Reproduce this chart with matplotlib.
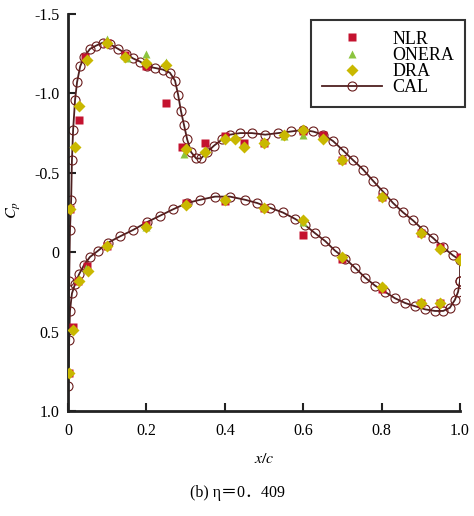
import matplotlib
matplotlib.use('Agg')
import matplotlib.pyplot as plt
import numpy as np

plt.rcParams['font.family'] = ['Liberation Serif', 'Noto Sans CJK SC', 'DejaVu Sans']
plt.rcParams['mathtext.fontset'] = 'stix'

# CAL (computation), upper surface from leading edge to trailing edge
cal_up_x = [0.0, 0.0, 0.003, 0.005, 0.008, 0.010, 0.013, 0.018, 0.023, 0.031, 0.041,
            0.056, 0.071, 0.089, 0.107, 0.128, 0.148, 0.166, 0.184, 0.202, 0.222,
            0.242, 0.260, 0.273, 0.281, 0.288, 0.296, 0.304, 0.314, 0.327, 0.339,
            0.355, 0.372, 0.393, 0.413, 0.439, 0.469, 0.503, 0.536, 0.569, 0.599,
            0.625, 0.651, 0.676, 0.702, 0.727, 0.753, 0.778, 0.804, 0.829, 0.855,
            0.880, 0.906, 0.931, 0.957, 0.982, 1.0]
cal_up_cp = [0.84, 0.49, 0.18, -0.14, -0.33, -0.58, -0.77, -0.96, -1.07, -1.17, -1.23,
             -1.28, -1.30, -1.32, -1.31, -1.28, -1.25, -1.22, -1.20, -1.17, -1.16,
             -1.15, -1.13, -1.08, -0.99, -0.89, -0.80, -0.71, -0.63, -0.59, -0.59,
             -0.63, -0.67, -0.71, -0.74, -0.75, -0.75, -0.74, -0.75, -0.76, -0.77,
             -0.76, -0.74, -0.70, -0.64, -0.58, -0.52, -0.45, -0.38, -0.31, -0.25,
             -0.20, -0.14, -0.09, -0.03, 0.02, 0.05]
# CAL lower surface, leading edge to trailing edge
cal_lo_x = [0.003, 0.005, 0.010, 0.018, 0.028, 0.041, 0.056, 0.077, 0.102, 0.133,
            0.166, 0.202, 0.235, 0.268, 0.304, 0.337, 0.375, 0.413, 0.452, 0.482,
            0.515, 0.548, 0.579, 0.605, 0.630, 0.656, 0.681, 0.707, 0.733, 0.758,
            0.783, 0.809, 0.834, 0.860, 0.885, 0.911, 0.936, 0.957, 0.974, 0.987,
            0.995, 1.0]
cal_lo_cp = [0.55, 0.37, 0.26, 0.20, 0.14, 0.08, 0.03, -0.01, -0.06, -0.10,
             -0.14, -0.19, -0.23, -0.27, -0.31, -0.33, -0.35, -0.35, -0.33, -0.31,
             -0.28, -0.25, -0.21, -0.17, -0.12, -0.07, -0.01, 0.04, 0.10, 0.16,
             0.21, 0.25, 0.29, 0.32, 0.34, 0.36, 0.37, 0.37, 0.35, 0.30,
             0.25, 0.18]

# NLR experiment
nlr_x = [0.005, 0.028, 0.043, 0.1, 0.145, 0.2, 0.25, 0.29, 0.35, 0.4, 0.45, 0.5,
         0.6, 0.65, 0.7, 0.8, 0.9, 0.95,
         0.003, 0.012, 0.026, 0.048, 0.1, 0.2, 0.3, 0.4, 0.5, 0.6, 0.7, 0.8, 0.9, 0.95, 1.0]
nlr_cp = [-0.27, -0.83, -1.23, -1.32, -1.24, -1.17, -0.94, -0.66, -0.69, -0.73, -0.69, -0.69,
          -0.76, -0.74, -0.58, -0.35, -0.12, -0.03,
          0.76, 0.47, 0.18, 0.09, -0.04, -0.17, -0.31, -0.32, -0.28, -0.11, 0.04, 0.23, 0.32, 0.32, 0.03]

# ONERA experiment
onera_x = [0.1, 0.15, 0.2, 0.25, 0.295, 0.55, 0.6, 0.045, 0.2, 0.6]
onera_cp = [-1.34, -1.22, -1.25, -1.20, -0.62, -0.73, -0.74, 0.10, -0.16, -0.19]

# DRA experiment
dra_x = [0.005, 0.018, 0.028, 0.049, 0.1, 0.146, 0.2, 0.25, 0.3, 0.35, 0.4, 0.425,
         0.45, 0.5, 0.55, 0.6, 0.65, 0.7, 0.8, 0.9, 0.95, 1.0,
         0.003, 0.012, 0.028, 0.05, 0.1, 0.2, 0.3, 0.4, 0.5, 0.6, 0.7, 0.8, 0.9, 0.95]
dra_cp = [-0.27, -0.66, -0.92, -1.21, -1.32, -1.23, -1.19, -1.18, -0.65, -0.63, -0.71, -0.71,
          -0.66, -0.69, -0.74, -0.77, -0.71, -0.58, -0.35, -0.12, -0.02, 0.05,
          0.76, 0.49, 0.18, 0.12, -0.04, -0.16, -0.30, -0.33, -0.28, -0.20, 0.03, 0.22, 0.32, 0.32]

fig = plt.figure(figsize=(4.74, 5.16), dpi=100)
ax = fig.add_axes([0.1435, 0.2035, 0.827, 0.7694])

# closed loop: lower TE -> LE -> upper TE -> back down
cal_x = cal_lo_x[::-1] + cal_up_x + [cal_lo_x[-1]]
cal_cp = cal_lo_cp[::-1] + cal_up_cp + [cal_lo_cp[-1]]

ax.plot(nlr_x, nlr_cp, 's', color='#c4122f', ms=5.8, mec='none', label='NLR', zorder=3)
ax.plot(onera_x, onera_cp, '^', color='#8cc43f', ms=6.2, mec='none', label='ONERA', zorder=4)
ax.plot(dra_x, dra_cp, 'D', color='#c9b800', ms=6.2, mec='none', label='DRA', zorder=5)
ax.plot(cal_x, cal_cp, '-', color='#4e2020', lw=1.3, marker='o', ms=6.5, mfc='none',
        mec='#6a1c1c', mew=0.8, label='CAL', zorder=2)

ax.set_xlim(0, 1.0)
ax.set_ylim(1.0, -1.5)
ax.set_xticks([0, 0.2, 0.4, 0.6, 0.8, 1.0])
ax.set_xticklabels(['0', '0.2', '0.4', '0.6', '0.8', '1.0'])
ax.set_yticks([-1.5, -1.0, -0.5, 0, 0.5, 1.0])
ax.set_yticklabels(['-1.5', '-1.0', '-0.5', '0', '0.5', '1.0'])
ax.tick_params(direction='in', length=6, width=1.5, labelsize=11.5, color='#222222')
ax.tick_params(axis='x', pad=9)
ax.tick_params(axis='y', pad=6)

for s in ['top', 'right']:
    ax.spines[s].set_visible(False)
for s in ['left', 'bottom']:
    ax.spines[s].set_linewidth(2)
    ax.spines[s].set_color('#222222')

ax.set_xlabel(r'$x/c$', fontsize=11.5)
ax.xaxis.set_label_coords(0.5, -0.1)
ax.set_ylabel(r'$C_p$', fontsize=11.5)
ax.yaxis.set_label_coords(-0.115, 0.506)

leg = ax.legend(loc='upper right', bbox_to_anchor=(1.013, 0.985), fontsize=13,
                frameon=True, fancybox=False, handlelength=3.3, borderpad=0.6,
                labelspacing=-0.05, handletextpad=0.6, borderaxespad=0)
leg.get_frame().set_edgecolor('black')
leg.get_frame().set_linewidth(1.5)

fig.text(0.5, 0.045, '(b) η＝0．409', ha='center', va='center', fontsize=11.5)

fig.savefig('out.png', dpi=100)
